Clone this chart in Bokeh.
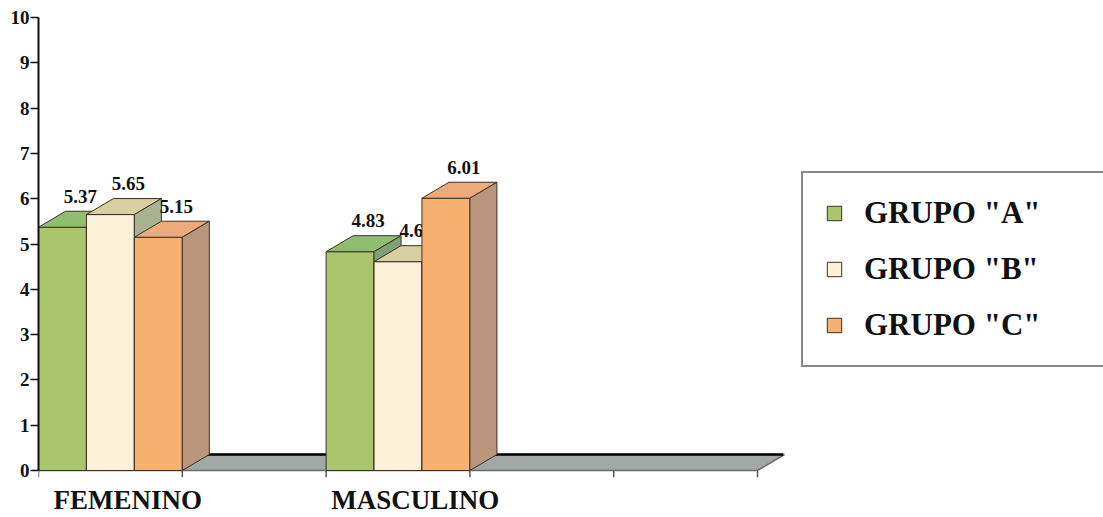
from bokeh.plotting import figure
from bokeh.models import Range1d, FixedTicker, LinearAxis, Legend, LegendItem
from bokeh.embed import file_html
from bokeh.resources import INLINE

# ---------------- data ----------------
categories = ["FEMENINO", "", "MASCULINO", "", ""]
series_names = ['GRUPO "A"', 'GRUPO "B"', 'GRUPO "C"']
grupo_a = [5.37, None, 4.83, None, None]
grupo_b = [5.65, None, 4.61, None, None]
grupo_c = [5.15, None, 6.01, None, None]
y_ticks = [0, 1, 2, 3, 4, 5, 6, 7, 8, 9, 10]

series_values = [grupo_a, grupo_b, grupo_c]

# ---------------- style ----------------
FONT = "Liberation Serif"
front_colors = ["#a9c56d", "#fbf0d8", "#f6b070"]
top_colors = ["#90bd70", "#d6cfa2", "#eeaa7a"]
side_colors = ["#7fa274", "#a8b392", "#b9977e"]
OUTLINE = "#3d3026"

PX_X = 143.8          # pixels per category slot
PX_Y = 45.3           # pixels per value unit
DX = 27 / PX_X        # 3D depth offset (x)
DY = 16 / PX_Y        # 3D depth offset (y)
LABEL_DX = 18 / PX_X
LABEL_DY = 15 / PX_Y
CAT_SHIFT = 0.12
TICK_DOWN = 7 / PX_Y

n_slots = len(categories)
n_series = len(series_values)
bw = 1.0 / n_series

p = figure(width=1103, height=517,
           x_range=Range1d(0, 1065 / PX_X), y_range=Range1d(-TICK_DOWN, 10 + 7 / PX_Y),
           output_backend="svg", toolbar_location=None,
           min_border_left=38, min_border_right=0, min_border_top=10, min_border_bottom=40,
           x_axis_type=None, y_axis_type=None)
p.outline_line_color = None
p.background_fill_color = "white"
p.border_fill_color = "white"

# floor
p.patch([0, n_slots, n_slots + DX, DX], [0, 0, DY, DY],
        fill_color="#a2a6a4", line_color="#6a6e6c", line_width=1.5)
p.line([DX, n_slots + DX * 0.95], [DY, DY], line_color="black", line_width=2.5)

# category boundary ticks below the floor
bounds = list(range(n_slots + 1))
p.segment(x0=bounds, y0=[0] * len(bounds), x1=bounds, y1=[-TICK_DOWN] * len(bounds),
          line_color="#555555", line_width=1.5)

legend_refs = [None] * n_series
for s in range(n_slots):
    for k in range(n_series):
        v = series_values[k][s]
        if v is None:
            continue
        x0 = s + k * bw
        x1 = x0 + bw
        fr = p.quad(left=[x0], right=[x1], bottom=[0], top=[v],
                    fill_color=front_colors[k], line_color=OUTLINE, line_width=1)
        p.patch([x0, x1, x1 + DX, x0 + DX], [v, v, v + DY, v + DY],
                fill_color=top_colors[k], line_color=OUTLINE, line_width=1)
        p.patch([x1, x1, x1 + DX, x1 + DX], [0, v, v + DY, DY],
                fill_color=side_colors[k], line_color=OUTLINE, line_width=1)
        p.text(x=[(x0 + x1) / 2 + LABEL_DX], y=[v + DY + LABEL_DY], text=[f"{v:.2f}"],
               text_font=FONT, text_font_style="bold", text_font_size="19px",
               text_align="center", text_baseline="middle", text_color="#111111")
        if legend_refs[k] is None:
            legend_refs[k] = fr

# y axis
yaxis = LinearAxis(ticker=FixedTicker(ticks=y_ticks), bounds=(0, 10),
                   axis_line_color="#111111", axis_line_width=2,
                   major_tick_out=8, major_tick_in=0, major_tick_line_width=1.5,
                   major_tick_line_color="#111111",
                   minor_tick_line_color=None, major_label_standoff=1,
                   major_label_text_font=FONT, major_label_text_font_style="bold",
                   major_label_text_font_size="19px", major_label_text_color="#111111")
p.add_layout(yaxis, "left")

# x axis (category labels)
label_ticks = [round(i + 0.5 + CAT_SHIFT, 3) for i, c in enumerate(categories) if c]
overrides = {round(i + 0.5 + CAT_SHIFT, 3): c for i, c in enumerate(categories) if c}
xaxis = LinearAxis(ticker=FixedTicker(ticks=label_ticks), major_label_overrides=overrides,
                   axis_line_color=None, major_tick_line_color=None, minor_tick_line_color=None,
                   major_tick_out=0, major_tick_in=0, major_label_standoff=7,
                   major_label_text_font=FONT, major_label_text_font_style="bold",
                   major_label_text_font_size="27px", major_label_text_color="#111111")
p.add_layout(xaxis, "below")

legend = Legend(items=[LegendItem(label=series_names[k], renderers=[legend_refs[k]])
                       for k in range(n_series)],
                location=(763, 110), padding=22, spacing=20, margin=0,
                glyph_width=18, glyph_height=18, label_standoff=21, label_width=260,
                label_text_font=FONT, label_text_font_style="bold",
                label_text_font_size="31px", label_text_color="#111111",
                border_line_color="#111111", border_line_width=2,
                background_fill_color="white", background_fill_alpha=1.0)
p.add_layout(legend)

open("out.html", "w").write(file_html(p, INLINE))
